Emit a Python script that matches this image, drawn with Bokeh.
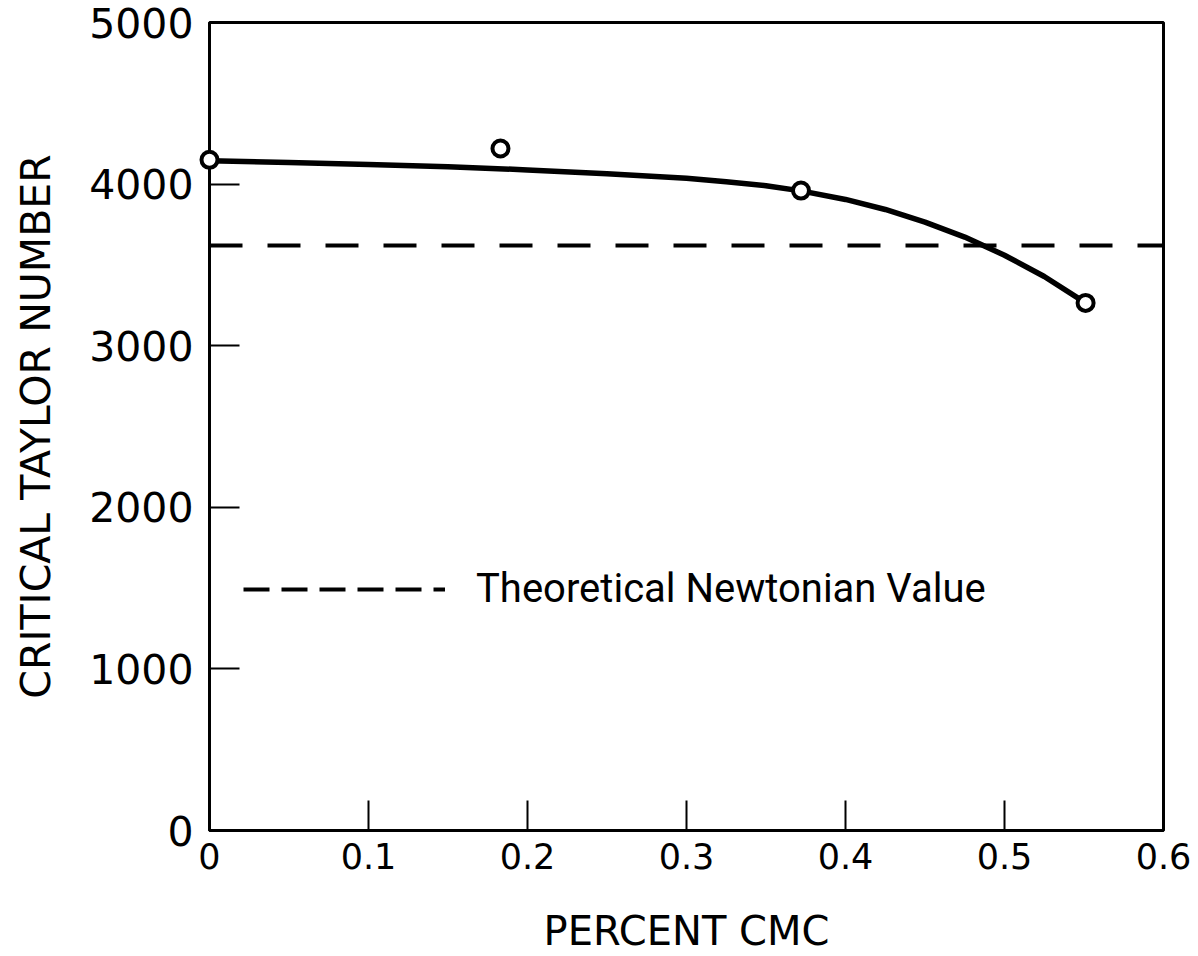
from bokeh.plotting import figure
from bokeh.models import Range1d, FixedTicker, Span, Legend, LegendItem
from bokeh.embed import file_html
from bokeh.resources import INLINE

# ---- data ----
cmc_pct = [0.0, 0.183, 0.372, 0.551]          # percent CMC of measured points
critical_ta = [4150, 4220, 3960, 3265]        # measured critical Taylor numbers
fit_x = [0.0, 0.05, 0.10, 0.15, 0.20, 0.25, 0.30, 0.325, 0.35, 0.372,
         0.40, 0.425, 0.45, 0.475, 0.50, 0.525, 0.551]
fit_y = [4145, 4133, 4122, 4108, 4088, 4064, 4036, 4014, 3990, 3958,
         3905, 3843, 3765, 3672, 3560, 3428, 3265]
newtonian_ta = 3620                            # theoretical Newtonian value
x_ticks = [0.0, 0.1, 0.2, 0.3, 0.4, 0.5, 0.6]
x_tick_labels = ["0", "0.1", "0.2", "0.3", "0.4", "0.5", "0.6"]
y_ticks = [0, 1000, 2000, 3000, 4000, 5000]
y_tick_labels = ["0", "1000", "2000", "3000", "4000", "5000"]

FONT = "DejaVu Sans"

p = figure(width=1198, height=956, output_backend="svg", toolbar_location=None,
           x_range=Range1d(0, 0.6), y_range=Range1d(0, 5000),
           min_border_left=209, min_border_right=35, min_border_top=22, min_border_bottom=125)

p.xgrid.visible = False
p.ygrid.visible = False
p.outline_line_color = "black"
p.outline_line_width = 3
p.background_fill_color = "white"
p.border_fill_color = "white"

for ax in (p.xaxis[0], p.yaxis[0]):
    ax.axis_line_width = 3
    ax.axis_line_color = "black"
    ax.major_tick_in = 30
    ax.major_tick_out = 0
    ax.major_tick_line_width = 2
    ax.minor_tick_line_color = None
    ax.major_label_text_font = FONT
    ax.major_label_text_font_style = "normal"
    ax.axis_label_text_font = FONT
    ax.axis_label_text_font_style = "normal"
    ax.axis_label_text_color = "black"
    ax.major_label_text_color = "black"

p.xaxis.ticker = FixedTicker(ticks=x_ticks)
p.xaxis.major_label_overrides = {t: l for t, l in zip(x_ticks, x_tick_labels)}
p.xaxis.major_label_text_font_size = "35px"
p.xaxis.major_label_standoff = 12
p.xaxis.axis_label = "PERCENT CMC"
p.xaxis.axis_label_text_font_size = "40px"
p.xaxis.axis_label_standoff = 36

p.yaxis.ticker = FixedTicker(ticks=y_ticks)
p.yaxis.major_label_overrides = {t: l for t, l in zip(y_ticks, y_tick_labels)}
p.yaxis.major_label_text_font_size = "41px"
p.yaxis.major_label_standoff = 16
p.yaxis.axis_label = "CRITICAL TAYLOR NUMBER"
p.yaxis.axis_label_text_font_size = "41px"
p.yaxis.axis_label_standoff = 26

# theoretical Newtonian value
p.add_layout(Span(location=newtonian_ta, dimension="width", line_color="black",
                  line_width=4, line_dash="33 25"))

# fitted curve
p.line(fit_x, fit_y, line_color="black", line_width=5.5, line_join="round")

# measured points
p.scatter(cmc_pct, critical_ta, marker="circle", size=16, fill_color="white",
          line_color="black", line_width=4, level="overlay")

# legend
legend_r = p.line(x=[float("nan")], y=[float("nan")], line_color="black",
                  line_width=4, line_dash="26 12")
legend = Legend(items=[LegendItem(label="Theoretical Newtonian Value", renderers=[legend_r])],
                location=(34, 218), glyph_width=202, glyph_height=32, label_height=32,
                label_standoff=31, padding=0, margin=0, spacing=0,
                border_line_color=None, background_fill_alpha=0,
                label_text_font="Roboto", label_text_font_style="normal",
                label_text_font_size="40px", label_text_color="black")
p.add_layout(legend)

open("out.html", "w").write(file_html(p, INLINE))
